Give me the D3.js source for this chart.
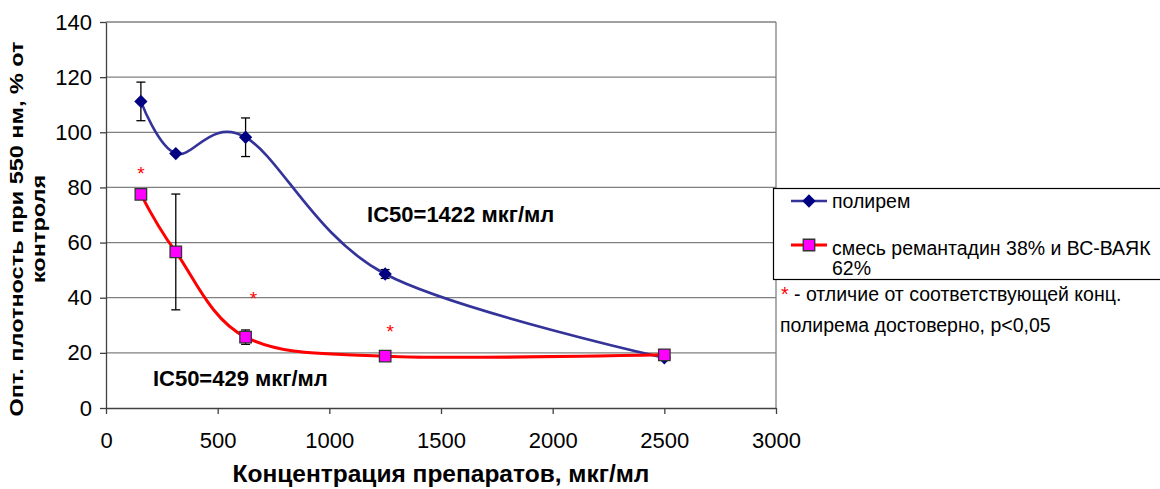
<!DOCTYPE html>
<html>
<head>
<meta charset="utf-8">
<script src="https://cdn.jsdelivr.net/npm/d3@7"></script>
<style>
	body { margin: 0; background: #fff; }
	text { font-family: "Liberation Sans", Arial, sans-serif; }
</style>
</head>
<body>
<div id="chart"></div>
<script>
// data
var concentrations = [156.25, 312.5, 625, 1250, 2500];
var polyremValues = [111.2, 92.3, 98.2, 48.6, 18.2];
var polyremErrors = [7, 0, 7, 1.6, 0];
var mixValues = [77.5, 56.6, 25.7, 18.8, 19.3];
var mixErrors = [0, 21, 2.6, 0, 0];
var seriesNames = ["полирем", "смесь ремантадин 38% и ВС-ВАЯК", "62%"];
var xTicks = [0, 500, 1000, 1500, 2000, 2500, 3000];
var yTicks = [0, 20, 40, 60, 80, 100, 120, 140];
// significance asterisks (concentration, value)
var starX = [156.25, 660, 1272];
var starY = [86.5, 41, 29];
var ic50Texts = ["IC50=1422 мкг/мл", "IC50=429 мкг/мл"];
var ic50X = [1169, 210];
var ic50Y = [67.5, 8];
var noteLines = [" - отличие от соответствующей конц.", "полирема достоверно, p<0,05"];
var xTitle = "Концентрация препаратов, мкг/мл";
var yTitleLines = ["Опт. плотность при 550 нм, % от", "контроля"];

const
	WIDTH = 1160, HEIGHT = 489,
	LEFT = 106, RIGHT = 776, TOP = 22, BOTTOM = 408,
	BLUE_LINE = "#333399", BLUE_MARK = "#000080",
	RED_LINE = "#ff0000", PINK = "#ff00ff",
	SMALL_FONT = "19.5px";

var svg = d3.select("#chart")
	.append("svg")
	.attr("width", WIDTH)
	.attr("height", HEIGHT);

var x = d3.scaleLinear().domain([0, 3000]).range([LEFT, RIGHT]);
var y = d3.scaleLinear().domain([0, 140]).range([BOTTOM, TOP]);

// gridlines + plot frame
svg.append("g")
	.selectAll("line")
	.data(yTicks.filter(function(d){ return d > 0; }))
	.enter().append("line")
	.attr("x1", LEFT).attr("x2", RIGHT)
	.attr("y1", function(d){ return y(d); })
	.attr("y2", function(d){ return y(d); })
	.attr("stroke", "#808080")
	.attr("stroke-width", 1.3);
svg.append("line")
	.attr("x1", RIGHT).attr("x2", RIGHT).attr("y1", TOP).attr("y2", BOTTOM)
	.attr("stroke", "#808080").attr("stroke-width", 1.3);

// axes
var yAxis = d3.axisLeft(y).tickValues(yTicks).tickSize(6).tickSizeOuter(0).tickPadding(8)
	.tickFormat(d3.format("d"));
var xAxis = d3.axisBottom(x).tickValues(xTicks).tickSize(6).tickSizeOuter(0).tickPadding(18)
	.tickFormat(d3.format("d"));

var gy = svg.append("g")
	.attr("transform", "translate(" + LEFT + ",0)")
	.call(yAxis);
var gx = svg.append("g")
	.attr("transform", "translate(0," + BOTTOM + ")")
	.call(xAxis);
[gx, gy].forEach(function(g){
	g.selectAll("path, line").attr("stroke", "#404040").attr("stroke-width", 1.3);
	g.selectAll("text")
		.attr("fill", "#000")
		.style("font-size", "22px")
		.style("font-family", "'Liberation Sans', Arial, sans-serif");
});

// lines
var line = d3.line()
	.x(function(d){ return x(d[0]); })
	.y(function(d){ return y(d[1]); })
	.curve(d3.curveCardinal.tension(0));

var polyrem = concentrations.map(function(c, i){ return [c, polyremValues[i], polyremErrors[i]]; });
var mix = concentrations.map(function(c, i){ return [c, mixValues[i], mixErrors[i]]; });

function errorBars(data){
	var g = svg.append("g").attr("stroke", "#000").attr("stroke-width", 1.3);
	data.filter(function(d){ return d[2] > 0; }).forEach(function(d){
		var cx = x(d[0]), top = y(d[1] + d[2]), bot = y(d[1] - d[2]);
		g.append("line").attr("x1", cx).attr("x2", cx).attr("y1", top).attr("y2", bot);
		g.append("line").attr("x1", cx - 4.5).attr("x2", cx + 4.5).attr("y1", top).attr("y2", top);
		g.append("line").attr("x1", cx - 4.5).attr("x2", cx + 4.5).attr("y1", bot).attr("y2", bot);
	});
}

var diamond = d3.symbol().type(d3.symbolSquare).size(88);
var square = d3.symbol().type(d3.symbolSquare).size(132);

// polyrem series
svg.append("path")
	.datum(polyrem)
	.attr("d", line)
	.attr("fill", "none")
	.attr("stroke", BLUE_LINE)
	.attr("stroke-width", 2.6);
errorBars(polyrem);
svg.append("g").selectAll("path")
	.data(polyrem)
	.enter().append("path")
	.attr("d", diamond)
	.attr("transform", function(d){ return "translate(" + x(d[0]) + "," + y(d[1]) + ") rotate(45)"; })
	.attr("fill", BLUE_MARK);

// mixture series
svg.append("path")
	.datum(mix)
	.attr("d", line)
	.attr("fill", "none")
	.attr("stroke", RED_LINE)
	.attr("stroke-width", 3);
errorBars(mix);
svg.append("g").selectAll("path")
	.data(mix)
	.enter().append("path")
	.attr("d", square)
	.attr("transform", function(d){ return "translate(" + x(d[0]) + "," + y(d[1]) + ")"; })
	.attr("fill", PINK)
	.attr("stroke", "#333")
	.attr("stroke-width", 1.3);

// asterisks
svg.append("g").selectAll("text")
	.data(starX)
	.enter().append("text")
	.attr("x", function(d){ return x(d); })
	.attr("y", function(d, i){ return y(starY[i]) + 10; })
	.attr("text-anchor", "middle")
	.attr("fill", "#ff0000")
	.style("font-size", "19px")
	.text("*");

// IC50 labels
svg.append("g").selectAll("text")
	.data(ic50Texts)
	.enter().append("text")
	.attr("x", function(d, i){ return x(ic50X[i]); })
	.attr("y", function(d, i){ return y(ic50Y[i]); })
	.style("font-size", "22px")
	.style("font-weight", "bold")
	.text(function(d){ return d; });

// legend
var lg = svg.append("g");
lg.append("rect")
	.attr("x", 773.5).attr("y", 188.5)
	.attr("width", 400).attr("height", 91)
	.attr("fill", "#fff").attr("stroke", "#000").attr("stroke-width", 1.2);
lg.append("line").attr("x1", 791).attr("x2", 827).attr("y1", 201).attr("y2", 201)
	.attr("stroke", BLUE_LINE).attr("stroke-width", 2.6);
lg.append("path").attr("d", diamond).attr("transform", "translate(809,201) rotate(45)").attr("fill", BLUE_MARK);
lg.append("line").attr("x1", 791).attr("x2", 827).attr("y1", 245).attr("y2", 245)
	.attr("stroke", RED_LINE).attr("stroke-width", 3);
lg.append("path").attr("d", square).attr("transform", "translate(809,245)")
	.attr("fill", PINK).attr("stroke", "#333").attr("stroke-width", 1.3);
[[208, seriesNames[0]], [255, seriesNames[1]], [275, seriesNames[2]]].forEach(function(t){
	lg.append("text").attr("x", 832).attr("y", t[0]).style("font-size", SMALL_FONT).text(t[1]);
});

// note
var note = svg.append("text").attr("x", 781).attr("y", 301).style("font-size", SMALL_FONT);
note.append("tspan").attr("fill", "#ff0000").text("*");
note.append("tspan").text(noteLines[0]);
svg.append("text").attr("x", 780).attr("y", 332).style("font-size", SMALL_FONT).text(noteLines[1]);

// axis titles
svg.append("text")
	.attr("x", (LEFT + RIGHT) / 2).attr("y", 482)
	.attr("text-anchor", "middle")
	.style("font-size", "24.5px").style("font-weight", "bold")
	.text(xTitle);
// the y title is narrow in the original, so squeeze its thickness
yTitleLines.forEach(function(t, i){
	svg.append("text")
		.attr("transform", "translate(" + (23 + i * 21.5) + ",229) scale(0.8,1) rotate(-90)")
		.attr("text-anchor", "middle")
		.style("font-size", "23.5px").style("font-weight", "bold")
		.text(t);
});
</script>
</body>
</html>
